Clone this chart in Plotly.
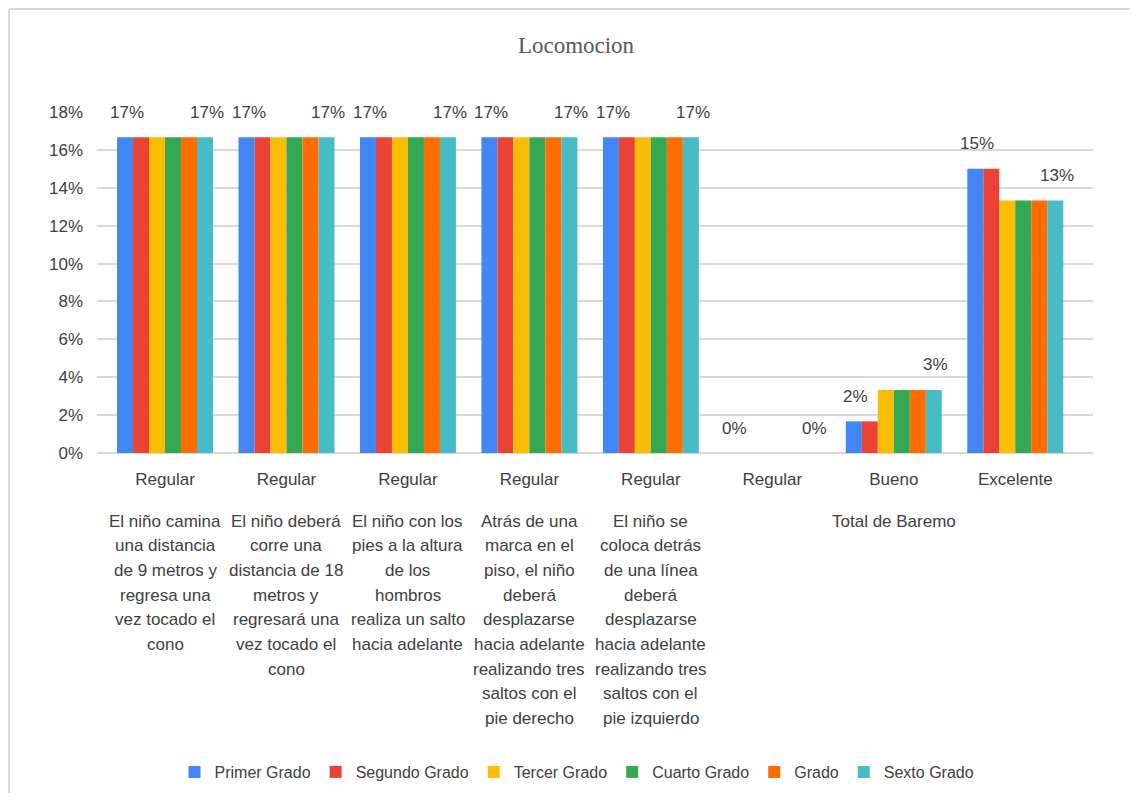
import plotly.graph_objects as go

# ---- data ----
inner_labels = ["Regular", "Regular", "Regular", "Regular", "Regular", "Regular", "Bueno", "Excelente"]
outer_labels = [
    ["El niño camina", "una distancia", "de 9 metros y", "regresa una", "vez tocado el", "cono"],
    ["El niño deberá", "corre una", "distancia de 18", "metros y", "regresará una", "vez tocado el", "cono"],
    ["El niño con los", "pies a la altura", "de los", "hombros", "realiza un salto", "hacia adelante"],
    ["Atrás de una", "marca en el", "piso, el niño", "deberá", "desplazarse", "hacia adelante",
     "realizando tres", "saltos con el", "pie derecho"],
    ["El niño se", "coloca detrás", "de una línea", "deberá", "desplazarse", "hacia adelante",
     "realizando tres", "saltos con el", "pie izquierdo"],
    [],
    ["Total de Baremo"],
    [],
]
series_names = ["Primer Grado", "Segundo Grado", "Tercer Grado", "Cuarto Grado", "Grado", "Sexto Grado"]
primer = [0.1667, 0.1667, 0.1667, 0.1667, 0.1667, 0.0, 0.0167, 0.15]
segundo = [0.1667, 0.1667, 0.1667, 0.1667, 0.1667, 0.0, 0.0167, 0.15]
tercer = [0.1667, 0.1667, 0.1667, 0.1667, 0.1667, 0.0, 0.0333, 0.1333]
cuarto = [0.1667, 0.1667, 0.1667, 0.1667, 0.1667, 0.0, 0.0333, 0.1333]
grado = [0.1667, 0.1667, 0.1667, 0.1667, 0.1667, 0.0, 0.0333, 0.1333]
sexto = [0.1667, 0.1667, 0.1667, 0.1667, 0.1667, 0.0, 0.0333, 0.1333]
series_values = [primer, segundo, tercer, cuarto, grado, sexto]
show_labels = [True, False, False, False, False, True]
colors = ["#4285F4", "#EA4335", "#FBBC04", "#34A853", "#FF6D01", "#46BDC6"]

FONT = "Liberation Sans, Arial, sans-serif"
TXT = "#404040"
FS = 17

W, H = 1122, 785
ML, MR, MT, MB = 89, 37, 104, 340
pw = W - ML - MR
ph = H - MT - MB

BARGAP = 0.21
n_series = len(series_names)
positions = list(range(len(inner_labels)))

fig = go.Figure()
for name, vals, col in zip(series_names, series_values, colors):
    fig.add_trace(go.Bar(
        x=positions, y=vals, name=name,
        marker=dict(color=col, line=dict(width=0)),
    ))

annotations = []
# data labels on first and last series
slot = (1 - BARGAP) / n_series
for s, (vals, lab) in enumerate(zip(series_values, show_labels)):
    if not lab:
        continue
    off = -(1 - BARGAP) / 2 + slot * (s + 0.5)
    for i, v in enumerate(vals):
        annotations.append(dict(
            x=i + off, xref="x", y=v, yref="y", yanchor="middle", xanchor="center",
            yshift=25, xshift=2, text=f"{v:.0%}", showarrow=False,
            font=dict(size=FS, color=TXT, family=FONT),
        ))

# outer category labels (one annotation per line)
LINE = 24.7
first_px = 513 - MT  # px below top of plot area
for i, lines in enumerate(outer_labels):
    for k, t in enumerate(lines):
        ypx = first_px + k * LINE
        annotations.append(dict(
            x=i, xref="x", y=1 - ypx / ph, yref="paper", yanchor="middle", xanchor="center",
            text=t, showarrow=False, font=dict(size=FS, color=TXT, family=FONT),
        ))

x_left = (1 - ML) / pw
y_top = (H - MB - 1) / ph
shapes = [
    dict(type="line", xref="paper", yref="paper", x0=x_left, x1=(W - ML) / pw, y0=y_top, y1=y_top,
         line=dict(color="#d9d9d9", width=2)),
    dict(type="line", xref="paper", yref="paper", x0=x_left, x1=x_left, y0=y_top, y1=-(H - MB) / ph,
         line=dict(color="#d9d9d9", width=2)),
]

fig.update_layout(
    width=W, height=H,
    margin=dict(l=ML, r=MR, t=MT, b=MB, autoexpand=False),
    paper_bgcolor="white", plot_bgcolor="white",
    title=dict(text="Locomocion", x=568 / W, xref="container", xanchor="center",
               y=1 - 37 / H, yref="container", yanchor="middle",
               font=dict(family="Liberation Serif, Times New Roman, serif", size=23, color="#595959")),
    barmode="group", bargap=BARGAP, bargroupgap=0,
    showlegend=True,
    legend=dict(orientation="h", x=(569 - ML) / pw, xanchor="center", y=(H - MB - 764) / ph,
                yanchor="middle", font=dict(size=16, color=TXT, family=FONT), itemwidth=30,
                traceorder="normal"),
    annotations=annotations,
    shapes=shapes,
    font=dict(family=FONT, color=TXT),
)
fig.update_xaxes(
    tickmode="array", tickvals=positions, ticktext=inner_labels, range=[-0.56, 7.64],
    showgrid=False, showline=False, zeroline=False, ticks="",
    tickfont=dict(size=FS, color=TXT, family=FONT), ticklabelstandoff=14,
)
fig.update_yaxes(
    range=[0, 0.18], dtick=0.02, tickformat=".0%",
    showgrid=True, gridcolor="#d9d9d9", gridwidth=1.5,
    zeroline=True, zerolinecolor="#d9d9d9", zerolinewidth=1.5, showline=False,
    tickfont=dict(size=FS, color=TXT, family=FONT), ticklabelstandoff=13,
)

fig.write_html("out.html")
